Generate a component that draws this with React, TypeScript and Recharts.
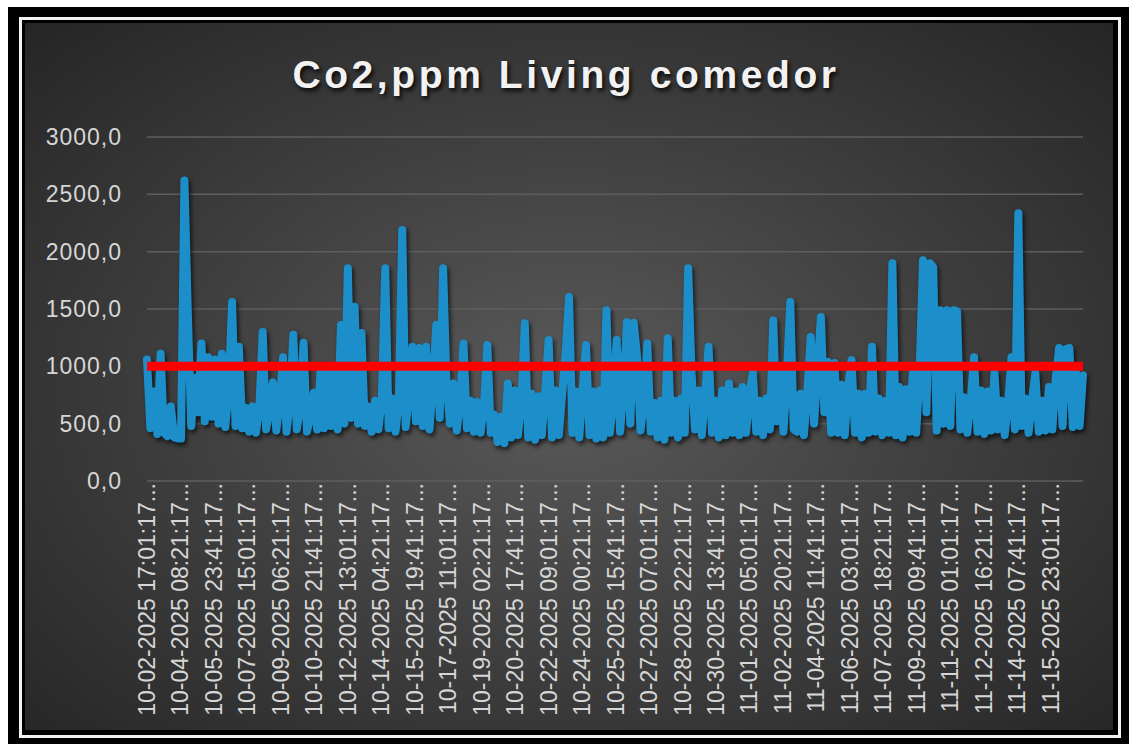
import React from "react";
import {
  LineChart,
  Line,
  XAxis,
  YAxis,
  CartesianGrid,
  ReferenceLine,
} from "recharts";

// minutes between samples and between printed date labels
const STEP_MIN = 240;
const LABEL_STEP_MIN = 2360;
const LIMIT = 1000;

const xLabels = [
  "10-02-2025 17:01:17", "10-04-2025 08:21:17", "10-05-2025 23:41:17", "10-07-2025 15:01:17",
  "10-09-2025 06:21:17", "10-10-2025 21:41:17", "10-12-2025 13:01:17", "10-14-2025 04:21:17",
  "10-15-2025 19:41:17", "10-17-2025 11:01:17", "10-19-2025 02:21:17", "10-20-2025 17:41:17",
  "10-22-2025 09:01:17", "10-24-2025 00:21:17", "10-25-2025 15:41:17", "10-27-2025 07:01:17",
  "10-28-2025 22:21:17", "10-30-2025 13:41:17", "11-01-2025 05:01:17", "11-02-2025 20:21:17",
  "11-04-2025 11:41:17", "11-06-2025 03:01:17", "11-07-2025 18:21:17", "11-09-2025 09:41:17",
  "11-11-2025 01:01:17", "11-12-2025 16:21:17", "11-14-2025 07:41:17", "11-15-2025 23:01:17",
];

const yTicks = [0, 500, 1000, 1500, 2000, 2500, 3000];

// Co2 ppm
const co2 = [
  1060, 460, 780, 410, 1110, 420, 390, 650, 380, 370,
  370, 2620, 1460, 480, 900, 600, 1200, 520, 1080, 560,
  1060, 500, 1110, 470, 790, 1560, 480, 1170, 460, 640,
  430, 650, 420, 640, 1300, 450, 620, 860, 440, 700,
  1080, 430, 700, 1275, 450, 640, 1205, 430, 560, 770,
  450, 960, 460, 950, 480, 940, 450, 1360, 500, 1855,
  550, 1520, 500, 1290, 480, 650, 430, 700, 450, 720,
  1855, 460, 720, 430, 700, 2190, 470, 760, 1170, 520,
  1160, 480, 1170, 450, 870, 1360, 550, 1855, 850, 500,
  850, 440, 680, 1200, 460, 700, 430, 690, 420, 650,
  1185, 420, 580, 340, 560, 330, 850, 380, 790, 400,
  700, 1375, 380, 760, 360, 740, 400, 780, 1230, 380,
  790, 400, 760, 1115, 1605, 420, 780, 380, 790, 1185,
  400, 780, 370, 790, 380, 1490, 420, 720, 1230, 430,
  800, 1385, 500, 1380, 1080, 440, 700, 1200, 430, 680,
  380, 700, 360, 1245, 420, 700, 380, 720, 420, 1855,
  940, 450, 790, 400, 760, 1170, 420, 700, 380, 790,
  400, 850, 420, 780, 400, 820, 420, 760, 940, 430,
  700, 400, 720, 450, 1400, 520, 940, 430, 920, 1560,
  450, 430, 760, 400, 770, 1255, 500, 990, 1430, 600,
  1040, 420, 1030, 420, 840, 400, 820, 1055, 420, 760,
  380, 760, 420, 1170, 430, 720, 400, 700, 420, 1900,
  400, 820, 380, 800, 430, 940, 420, 950, 1925, 600,
  1900, 1865, 440, 1490, 500, 1490, 480, 1490, 1480, 450,
  730, 420, 700, 1080, 430, 790, 410, 780, 440, 940,
  450, 700, 400, 680, 1080, 450, 2335, 480, 720, 420,
  700, 940, 430, 700, 440, 820, 450, 900, 1160, 480,
  1150, 1160, 470, 940, 480, 920,
];

const data = co2.map((v, i) => ({ t: i * STEP_MIN, co2: v }));
const tEnd = (co2.length - 1) * STEP_MIN;
const xTicks = xLabels.map((_, i) => i * LABEL_STEP_MIN);

const FONT = "'Liberation Sans', Arial, sans-serif";

const XTick = (props: any) => {
  const { x, y, payload } = props;
  const label = xLabels[Math.round(payload.value / LABEL_STEP_MIN)];
  return (
    <g transform={`translate(${x},${y})`}>
      <text
        transform="rotate(-90)"
        textAnchor="end"
        dominantBaseline="central"
        fill="#d6d6d6"
        fontSize={23}
        fontFamily={FONT}
      >
        {label}...
      </text>
    </g>
  );
};

const App = () => {
  return (
    <div style={{ position: "absolute", left: 0, top: 0, width: 1129, height: 744, background: "#fff", overflow: "hidden" }}>
      <style>{`.co2-line .recharts-line-curve { filter: drop-shadow(2px 3px 2px rgba(0,0,0,0.65)); }`}</style>
      <div style={{ position: "absolute", left: 8, top: 7, width: 1121, height: 737, background: "#000" }} />
      <div
        style={{
          position: "absolute", left: 19, top: 17, width: 1102, height: 721,
          border: "3px solid #f2f2f2", boxSizing: "border-box", background: "#000",
        }}
      />
      <div
        style={{
          position: "absolute", left: 25, top: 23, width: 1088, height: 707,
          background: "radial-gradient(ellipse at 50% 52%, #5a5a5a 0%, #404040 48%, #252525 100%)",
        }}
      >
        <div
          style={{
            position: "absolute", left: 0, top: 32, width: 1082, textAlign: "center",
            fontFamily: FONT, fontWeight: "bold", fontSize: 39, lineHeight: "39px",
            letterSpacing: 3.6, color: "#f2f2f2", textShadow: "2px 3px 4px rgba(0,0,0,0.85)",
          }}
        >
          Co2,ppm Living comedor
        </div>
        <LineChart width={1088} height={707} data={data} margin={{ top: 114, right: 30, left: 0, bottom: 0 }}>
          <CartesianGrid vertical={false} stroke="#5e5e5e" strokeWidth={1.5} />
          <XAxis
            type="number"
            dataKey="t"
            domain={[0, tEnd]}
            ticks={xTicks}
            interval={0}
            tick={<XTick />}
            tickLine={false}
            axisLine={false}
            tickSize={0}
            tickMargin={2}
            height={249}
          />
          <YAxis
            domain={[0, 3000]}
            ticks={yTicks}
            width={122}
            tickLine={false}
            axisLine={false}
            tickSize={0}
            tickMargin={25}
            tickFormatter={(v: number) => v.toFixed(1).replace(".", ",")}
            tick={{ fill: "#d6d6d6", fontSize: 23, fontFamily: FONT, letterSpacing: 1 }}
          />
          <Line
            className="co2-line"
            type="linear"
            dataKey="co2"
            stroke="#1c8ec9"
            strokeWidth={8}
            strokeLinejoin="round"
            strokeLinecap="round"
            dot={false}
            isAnimationActive={false}
          />
          <ReferenceLine y={LIMIT} stroke="#ff0000" strokeWidth={9} />
        </LineChart>
      </div>
    </div>
  );
};

export default App;
